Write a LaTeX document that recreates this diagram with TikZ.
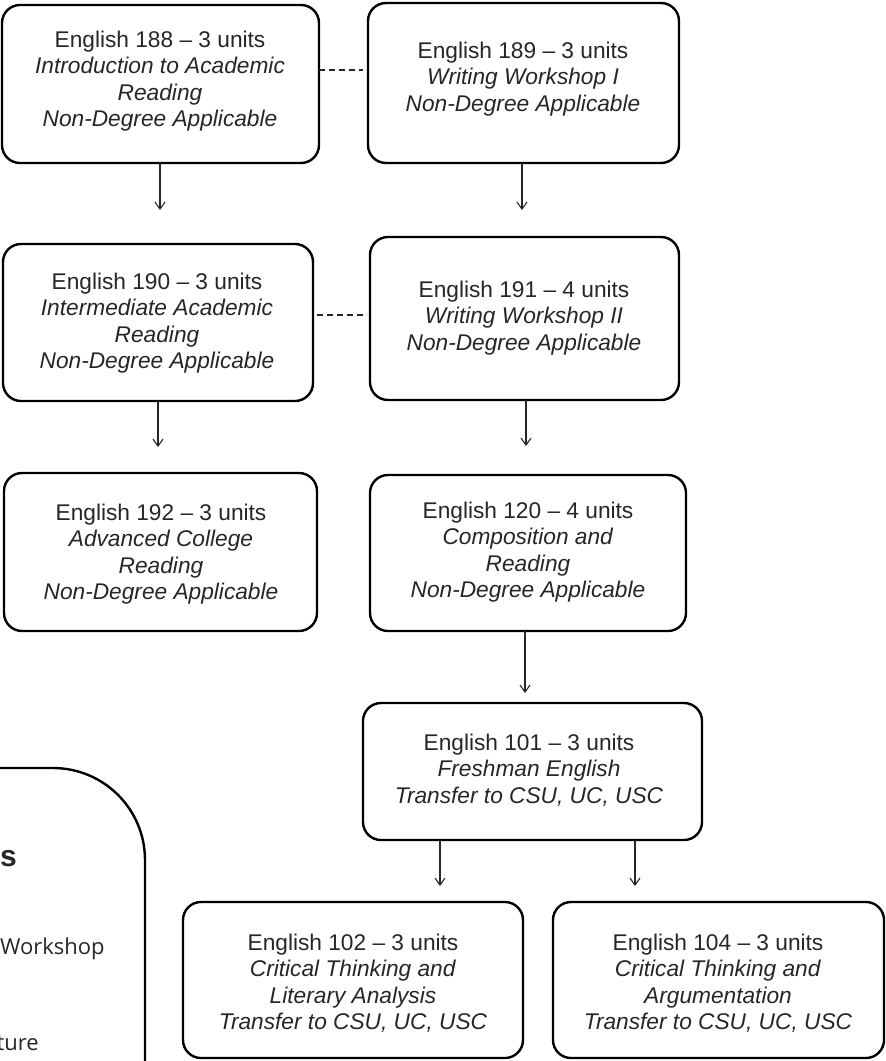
\documentclass[tikz,border=0pt]{standalone}
\usepackage{fontspec}
\setmainfont{Liberation Sans}
\newfontfamily\osans{Open Sans}
\usetikzlibrary{arrows.meta}
\begin{document}
\begin{tikzpicture}[x=1pt,y=-1pt,
  box/.style={draw=black, line width=2.4pt, rounded corners=18pt, inner sep=0pt, outer sep=0pt},
  txt/.style={anchor=north, inner sep=0pt, align=center, text=black!85, font=\fontsize{22.7}{26.5}\selectfont},
  arr/.style={draw=black!85, line width=1.1pt, -{Straight Barb[length=7pt,width=10pt,line width=1.1pt]}},
  dsh/.style={draw=black!85, line width=1.1pt, dash pattern=on 6pt off 4pt},
  side/.style={inner sep=0pt, text=black!85}]
\useasboundingbox (0,0) rectangle (886,1061);
\clip (0,0) rectangle (886,1061);

% boxes
\node[box, minimum width=317pt, minimum height=158pt] (b188) at (160.5,84) {};
\node[box, minimum width=311pt, minimum height=160pt] (b189) at (523.5,83) {};
\node[box, minimum width=310pt, minimum height=157pt] (b190) at (158,322.5) {};
\node[box, minimum width=309pt, minimum height=163pt] (b191) at (524.5,318.5) {};
\node[box, minimum width=313pt, minimum height=158pt] (b192) at (160.5,552) {};
\node[box, minimum width=316pt, minimum height=156pt] (b120) at (528,553) {};
\node[box, minimum width=339pt, minimum height=137pt] (b101) at (532.5,771.5) {};
\node[box, minimum width=340pt, minimum height=156pt] (b102) at (353,980) {};
\node[box, minimum width=331pt, minimum height=156pt] (b104) at (718.5,980) {};

% texts
\node[txt] (t188) at (160,30.5) {English 188 – 3 units\\\textit{Introduction to Academic}\\\textit{Reading}\\\textit{Non-Degree Applicable}};
\node[txt] (t189) at (523,41.5) {English 189 – 3 units\\\textit{Writing Workshop I}\\\textit{Non-Degree Applicable}};
\node[txt] (t190) at (157,272.5) {English 190 – 3 units\\\textit{Intermediate Academic}\\\textit{Reading}\\\textit{Non-Degree Applicable}};
\node[txt] (t191) at (524,280.5) {English 191 – 4 units\\\textit{Writing Workshop II}\\\textit{Non-Degree Applicable}};
\node[txt] (t192) at (161,503.5) {English 192 – 3 units\\\textit{Advanced College}\\\textit{Reading}\\\textit{Non-Degree Applicable}};
\node[txt] (t120) at (528,501.5) {English 120 – 4 units\\\textit{Composition and}\\\textit{Reading}\\\textit{Non-Degree Applicable}};
\node[txt] (t101) at (529,733.5) {English 101 – 3 units\\\textit{Freshman English}\\\textit{Transfer to CSU, UC, USC}};
\node[txt] (t102) at (353,933.5) {English 102 – 3 units\\\textit{Critical Thinking and}\\\textit{Literary Analysis}\\\textit{Transfer to CSU, UC, USC}};
\node[txt] (t104) at (718,933.5) {English 104 – 3 units\\\textit{Critical Thinking and}\\\textit{Argumentation}\\\textit{Transfer to CSU, UC, USC}};

% arrows with free ends
\coordinate (e188) at (160,210);
\coordinate (e189) at (522,210);
\coordinate (e190) at (158,447);
\coordinate (e191) at (526,446);
\coordinate (e120) at (525,693);
\coordinate (e101a) at (440,886);
\coordinate (e101b) at (635,886);
\draw[arr] (b188.south -| e188) -- (e188);
\draw[arr] (b189.south -| e189) -- (e189);
\draw[arr] (b190.south -| e190) -- (e190);
\draw[arr] (b191.south -| e191) -- (e191);
\draw[arr] (b120.south -| e120) -- (e120);
\draw[arr] (b101.south -| e101a) -- (e101a);
\draw[arr] (b101.south -| e101b) -- (e101b);

% dashed links
\coordinate (d1) at (0,70);
\coordinate (d2) at (0,315);
\draw[dsh, shorten >=5pt] (b188.east |- d1) -- (b189.west |- d1);
\draw[dsh, shorten <=4pt, shorten >=3pt] (b190.east |- d2) -- (b191.west |- d2);

% partial side box
\draw[line width=2.4pt, rounded corners=92pt] (-40,768) -- (145,768) -- (145,1120);
\node[side, anchor=base east, font=\bfseries\fontsize{30}{35}\selectfont] (sh) at (17,866) {s};
\node[side, anchor=base west, font=\osans\fontsize{22}{26}\selectfont] (sw) at (0,954) {Workshop};
\node[side, anchor=base east, font=\osans\fontsize{22}{26}\selectfont] (st) at (39,1050) {ture};
\end{tikzpicture}
\end{document}
